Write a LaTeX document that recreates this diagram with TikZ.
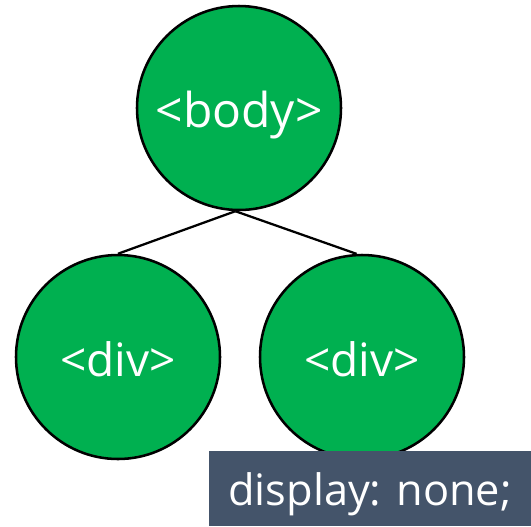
\documentclass[tikz,border=0pt]{standalone}
\usepackage{fontspec}
\setmainfont{Open Sans}
\usetikzlibrary{shapes}
\definecolor{tagGreen}{RGB}{0,176,80}
\definecolor{noteSlate}{RGB}{68,84,106}

\begin{document}
\begin{tikzpicture}[x=0.75pt,y=0.75pt,yscale=-1,xscale=1,
  tagnode/.style={circle,draw=black,line width=1.9pt,fill=tagGreen,text=white,
    minimum size=153pt,inner sep=0pt,text depth=0pt},
  edge/.style={draw=black,line width=1.7pt}]
%set diagram from (0,0) to (531,526)
\useasboundingbox (0,0) rectangle (531,526);

%Shape: Circle [body]
\node [tagnode,text height=28.8pt,font=\fontsize{36}{40}\selectfont] (body) at (239,108) {<body>};
%Shape: Circle [div, left]
\node [tagnode,text height=28.5pt,font=\fontsize{34.5}{40}\selectfont] (divl) at (118,357) {<div>};
%Shape: Circle [div, right]
\node [tagnode,text height=28.5pt,font=\fontsize{34.5}{40}\selectfont] (divr) at (362,357) {<div>};

%Straight Lines
\draw [edge] (body.-92) -- (divl.north);
\draw [edge] (body.-92) -- (divr.93);

% Text Node
\node [fill=noteSlate,text=white,inner sep=0pt,
  minimum width=241.5pt,minimum height=56.25pt,text height=24.8pt,text depth=0pt,
  font=\fontsize{32.5}{36}\selectfont] (note) at (370,488.5) {display: none;};

\end{tikzpicture}
\end{document}
